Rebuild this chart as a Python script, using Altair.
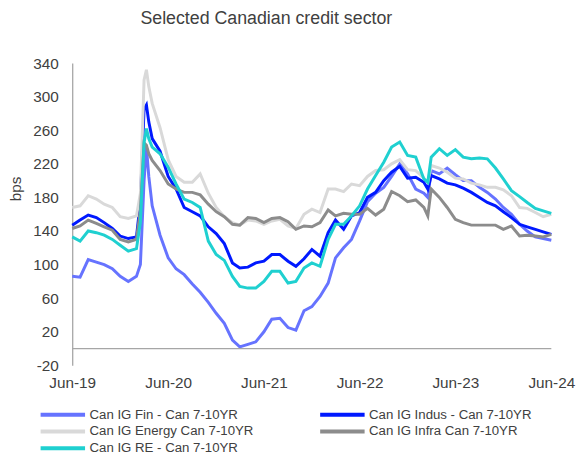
import altair as alt
import pandas as pd

DATES = [
    "2019-06-01", "2019-07-01", "2019-08-01", "2019-09-01", "2019-10-01", "2019-11-01",
    "2019-12-01", "2020-01-01", "2020-02-01", "2020-02-16", "2020-03-01", "2020-03-10",
    "2020-03-19", "2020-04-01", "2020-05-01", "2020-06-01", "2020-07-01", "2020-08-01",
    "2020-09-01", "2020-10-01", "2020-11-01", "2020-12-01", "2021-01-01", "2021-02-01",
    "2021-03-01", "2021-04-01", "2021-05-01", "2021-06-01", "2021-07-01", "2021-08-01",
    "2021-09-01", "2021-10-01", "2021-11-01", "2021-12-01", "2022-01-01", "2022-02-01",
    "2022-03-01", "2022-04-01", "2022-05-01", "2022-06-01", "2022-07-01", "2022-08-01",
    "2022-09-01", "2022-10-01", "2022-11-01", "2022-12-01", "2023-01-01", "2023-02-01",
    "2023-02-16", "2023-03-01", "2023-04-01", "2023-05-01", "2023-06-01", "2023-07-01",
    "2023-08-01", "2023-09-01", "2023-10-01", "2023-11-01", "2023-12-01", "2024-01-01",
    "2024-02-01", "2024-03-01", "2024-04-01", "2024-05-01", "2024-06-01",
]

FIN = [86, 85, 106, 103, 100, 95, 86, 80, 86, 100, 200, 240, 205,
       170, 135, 108, 95, 88, 77, 67, 55, 42, 30, 10, 2, 5, 8, 20, 35, 36, 25, 22, 45,
       50, 62, 78, 108, 120, 130, 152, 175, 185, 192, 205, 220, 208, 190, 185,
       180, 212, 208, 215, 207, 200, 200, 192, 186, 178, 168, 160, 148, 140, 133, 131, 129]
INDUS = [147, 153, 159, 156, 150, 143, 134, 131, 133, 175, 285, 290, 270,
         250, 235, 205, 190, 168, 163, 158, 145, 137, 125, 102, 96, 97, 102, 104, 112, 112,
         104, 98, 107, 118, 110, 138, 153, 142, 158, 162, 180, 186, 200, 210, 217, 203, 204,
         198, 190, 206, 202, 197, 195, 191, 186, 180, 174, 170, 163, 156, 148, 145, 142, 139, 136]
ENERGY = [168, 170, 182, 178, 172, 168, 157, 155, 158, 185, 320, 332, 312,
          292, 263, 225, 205, 198, 198, 208, 185, 168, 157, 150, 147, 153, 152, 148, 152,
          154, 146, 143, 160, 166, 162, 190, 190, 187, 196, 194, 205, 212, 213, 220, 225,
          213, 212, 203, 198, 218, 215, 210, 203, 202, 197, 195, 192, 192, 189, 182, 168,
          167, 162, 157, 160]
INFRA = [143, 146, 153, 149, 145, 141, 130, 127, 130, 165, 245, 242, 232,
         224, 212, 196, 190, 186, 186, 183, 172, 163, 157, 148, 147, 156, 155, 150, 155, 156,
         151, 142, 146, 145, 150, 165, 158, 161, 160, 160, 167, 159, 166, 187, 182, 175, 177,
         168, 158, 190, 180, 168, 154, 150, 147, 147, 147, 147, 142, 146, 134, 135, 134, 133, 136]
RE = [133, 128, 140, 138, 135, 130, 123, 116, 119, 150, 245, 262, 250,
      240, 232, 216, 196, 178, 174, 168, 128, 112, 105, 86, 74, 72, 72, 80, 92, 92, 78, 80,
      96, 102, 98, 130, 148, 148, 158, 170, 190, 206, 222, 240, 246, 230, 228, 202,
      198, 228, 238, 230, 237, 228, 226, 227, 226, 215, 202, 188, 181, 174, 167, 164, 161]

SERIES = [
    "Can IG Fin - Can 7-10YR",
    "Can IG Indus - Can 7-10YR",
    "Can IG Energy Can 7-10YR",
    "Can IG Infra Can 7-10YR",
    "Can IG RE - Can 7-10YR",
]
COLORS = ["#6673ff", "#0019ff", "#d9d9d9", "#8c8c8c", "#1fd0d0"]
Y_TICKS = [-20, 20, 60, 100, 140, 180, 220, 260, 300, 340]
X_TICKS = ["2019-06-01", "2020-06-01", "2021-06-01", "2022-06-01", "2023-06-01", "2024-06-01"]

rows = []
for name, vals in zip(SERIES, [FIN, INDUS, ENERGY, INFRA, RE]):
    for d, v in zip(DATES, vals):
        rows.append({"date": d, "series": name, "value": v})
df = pd.DataFrame(rows)

FONT = "Liberation Sans"
TXT = "#404040"
AXC = "#a6a6a6"

x_ticks = [alt.DateTime(year=int(s[:4]), month=int(s[5:7]), date=1, utc=True) for s in X_TICKS]
y_scale = alt.Scale(domain=[-20, 340], nice=False, zero=False)
y_axis = alt.Axis(values=Y_TICKS, title="bps", grid=False, ticks=False, tickSize=0,
                  labelOverlap=False, labelSeparation=0, labelExpr="'' + datum.value",
                  domainColor=AXC, domainWidth=1.3, labelPadding=14,
                  labelFontSize=15.5, labelFont=FONT, labelColor=TXT,
                  titleFont=FONT, titleFontSize=15.5, titleColor=TXT,
                  titleFontWeight="normal", titleAngle=-90, titleX=-57, titleY=127,
                  titleAlign="center", titleBaseline="middle")

lines = alt.Chart(df).mark_line(strokeWidth=3).encode(
    x=alt.X("date:T",
            scale=alt.Scale(type="utc", domain=[X_TICKS[0], X_TICKS[-1]]),
            axis=alt.Axis(values=x_ticks, labelExpr="utcFormat(datum.value, '%b-%y')",
                          title=None, domain=False, ticks=False, tickSize=0, grid=False,
                          labelFlush=False, labelOverlap=False, labelPadding=10,
                          labelFontSize=15.5, labelFont=FONT, labelColor=TXT)),
    y=alt.Y("value:Q", scale=y_scale, axis=y_axis),
    color=alt.Color("series:N",
                    scale=alt.Scale(domain=SERIES, range=COLORS),
                    sort=SERIES,
                    legend=alt.Legend(title=None, orient="none", legendX=-32, legendY=349,
                                      direction="horizontal",
                                      columns=2, columnPadding=59, rowPadding=1,
                                      padding=0, symbolType="M-4.5,0H4.5", symbolSize=100,
                                      symbolStrokeWidth=4, symbolOffset=15.5, labelOffset=20,
                                      labelLimit=400,
                                      labelFont=FONT, labelFontSize=13.4, labelColor=TXT)),
)

zero = alt.Chart(pd.DataFrame({"z": [0]})).mark_rule(color=AXC, strokeWidth=1.3).encode(
    y=alt.Y("z:Q", scale=y_scale, axis=y_axis))

chart = alt.layer(lines, zero).properties(
    width=485, height=306,
    padding={"left": 65, "top": 53, "right": 26, "bottom": 88},
    autosize=alt.AutoSizeParams(type="none"),
    title=alt.TitleParams("Selected Canadian credit sector", anchor="middle", dx=-46,
                          fontSize=18, font=FONT, fontWeight="normal", color=TXT,
                          offset=29),
).configure_view(stroke=None).configure_axis(labelOverlap=False)

chart.save("out.html", embed_options={"renderer": "svg", "actions": False})
